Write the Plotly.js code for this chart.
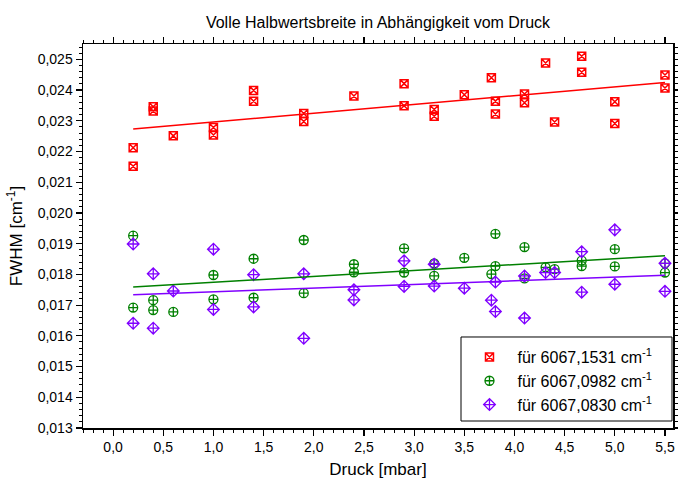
<!DOCTYPE html>
<html>
<head>
<meta charset="utf-8">
<script src="https://cdn.plot.ly/plotly-3.0.1.min.js"></script>
<style>html,body{margin:0;padding:0;background:#fff;}#chart{width:678px;height:479px;}</style>
</head>
<body>
<div id="chart"></div>
<script>
// Pressure values [mbar]
const xRed = [0.2,0.2,0.4,0.4,0.6,1.0,1.0,1.4,1.4,1.9,1.9,2.4,2.9,2.9,3.2,3.2,3.5,3.77,3.81,3.81,4.1,4.1,4.31,4.4,4.67,4.67,5.0,5.0,5.5,5.5];
const yRed = [0.02212,0.02152,0.02346,0.02332,0.02251,0.02278,0.02254,0.02399,0.02364,0.02324,0.02298,0.02381,0.02421,0.02349,0.02337,0.02315,0.02385,0.02440,0.02364,0.02322,0.02387,0.02359,0.02488,0.02296,0.02510,0.02458,0.02362,0.02291,0.02449,0.02407];

const xGreen = [0.2,0.2,0.4,0.4,0.6,1.0,1.0,1.4,1.4,1.9,1.9,2.4,2.4,2.9,2.9,3.2,3.2,3.5,3.77,3.81,3.81,4.1,4.1,4.31,4.4,4.67,4.67,5.0,5.0,5.5,5.5];
const yGreen = [0.01926,0.01692,0.01716,0.01684,0.01678,0.01798,0.01719,0.01851,0.01724,0.01912,0.01739,0.01833,0.01807,0.01885,0.01806,0.01836,0.01795,0.01854,0.01801,0.01932,0.01827,0.01889,0.01787,0.01823,0.01817,0.01845,0.01827,0.01882,0.01826,0.01836,0.01806];

const xPurple = [0.2,0.2,0.4,0.4,0.6,1.0,1.0,1.4,1.4,1.9,1.9,2.4,2.4,2.9,2.9,3.2,3.2,3.5,3.77,3.81,3.81,4.1,4.1,4.31,4.4,4.67,4.67,5.0,5.0,5.5,5.5];
const yPurple = [0.01899,0.01641,0.01802,0.01625,0.01746,0.01882,0.01686,0.01799,0.01694,0.01802,0.01592,0.01750,0.01717,0.01844,0.01761,0.01833,0.01762,0.01755,0.01716,0.01775,0.01679,0.01795,0.01658,0.01806,0.01806,0.01874,0.01742,0.01945,0.01768,0.01836,0.01745];

// Linear fit lines (endpoints)
const fitX = [0.2, 5.5];
const fitRed = [0.02273, 0.02425];
const fitGreen = [0.01759, 0.01861];
const fitPurple = [0.01734, 0.01797];

const names = ['für 6067,1531 cm<sup>-1</sup>','für 6067,0982 cm<sup>-1</sup>','für 6067,0830 cm<sup>-1</sup>'];
const colors = ['#ff0000','#008000','#8000ff'];

const FONT = 'Liberation Sans, Arial, sans-serif';

const traces = [
  {x:xRed, y:yRed, mode:'markers', type:'scatter', name:names[0],
   marker:{symbol:'square-x-open', size:8, color:colors[0], line:{width:1.5, color:colors[0]}}},
  {x:xGreen, y:yGreen, mode:'markers', type:'scatter', name:names[1],
   marker:{symbol:'circle-cross-open', size:9, color:colors[1], line:{width:1.3, color:colors[1]}}},
  {x:xPurple, y:yPurple, mode:'markers', type:'scatter', name:names[2],
   marker:{symbol:'diamond-cross-open', size:9, color:colors[2], line:{width:1.3, color:colors[2]}}},
  {x:fitX, y:fitRed, mode:'lines', type:'scatter', showlegend:false, line:{color:colors[0], width:1.5}},
  {x:fitX, y:fitGreen, mode:'lines', type:'scatter', showlegend:false, line:{color:colors[1], width:1.5}},
  {x:fitX, y:fitPurple, mode:'lines', type:'scatter', showlegend:false, line:{color:colors[2], width:1.5}}
];

const layout = {
  width:678, height:479,
  separators:',.',
  font:{family:FONT, color:'#000', size:14},
  paper_bgcolor:'#fff', plot_bgcolor:'#fff',
  margin:{l:83, r:5, t:44, b:51},
  title:{text:'Volle Halbwertsbreite in Abhängigkeit vom Druck', font:{family:FONT, size:16, color:'#000'},
         x:0.5, xref:'paper', y:0.954, yref:'container', yanchor:'middle'},
  showlegend:true,
  legend:{x:0.6415, y:0.229, xanchor:'left', yanchor:'top', borderwidth:0,
          font:{family:FONT, size:16, color:'#000'}, bgcolor:'rgba(0,0,0,0)', itemwidth:46, tracegroupgap:0},
  shapes:[{type:'rect', xref:'paper', yref:'paper', x0:0.6407, x1:0.9983, y0:0.0182, y1:0.237,
           line:{color:'#000', width:1}, fillcolor:'#fff', layer:'below'}],
  xaxis:{range:[-0.3,5.58], showgrid:false, zeroline:false, showline:true, linecolor:'#000', linewidth:1.5,
         mirror:'allticks', ticks:'outside', ticklen:6, tickwidth:1.2, tickcolor:'#000',
         dtick:0.5, tick0:0, tickformat:'.1f', tickfont:{size:14, family:FONT},
         minor:{dtick:0.1, ticks:'outside', ticklen:3, tickwidth:1, tickcolor:'#000', showgrid:false},
         title:{text:'Druck [mbar]', font:{size:17, family:FONT}, standoff:14}},
  yaxis:{range:[0.013,0.0255], showgrid:false, zeroline:false, showline:true, linecolor:'#000', linewidth:1.5,
         mirror:'allticks', ticks:'outside', ticklen:6, tickwidth:1.2, tickcolor:'#000',
         dtick:0.001, tick0:0.013, tickformat:'.3f', tickfont:{size:14, family:FONT},
         minor:{dtick:0.0002, ticks:'outside', ticklen:3, tickwidth:1, tickcolor:'#000', showgrid:false},
         title:{text:'FWHM [cm<sup>-1</sup>]', font:{size:17, family:FONT}, standoff:10}}
};

Plotly.newPlot('chart', traces, layout, {displayModeBar:false, staticPlot:true});
</script>
</body>
</html>
